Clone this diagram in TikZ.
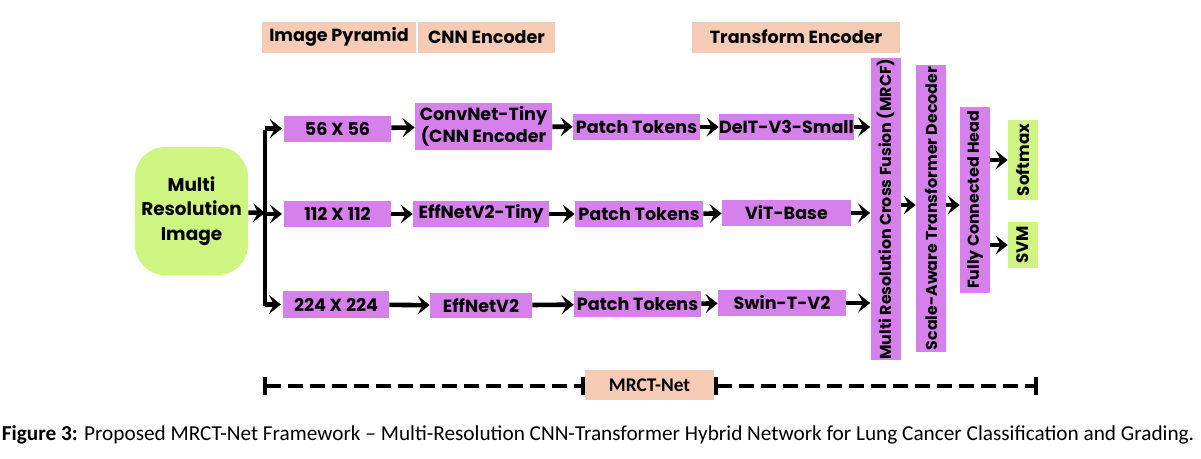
\documentclass[tikz,border=0pt]{standalone}
\usepackage{fontspec}
\usetikzlibrary{arrows.meta,calc}
\newfontfamily\blockfont{Poppins}
\newfontfamily\capfont{Carlito}
\definecolor{peach}{RGB}{245,203,182}
\definecolor{orchid}{RGB}{214,128,236}
\definecolor{lime}{RGB}{206,245,130}

\begin{document}
\begin{tikzpicture}[x=0.02cm,y=-0.02cm,
    hdr/.style={fill=peach,minimum height=0.62cm,inner sep=0pt,font=\blockfont\bfseries\fontsize{10}{12}\selectfont},
    blk/.style={fill=orchid,minimum height=0.52cm,inner sep=0pt,font=\blockfont\bfseries\fontsize{10}{11}\selectfont,align=center},
    vblk/.style={fill=orchid,minimum width=0.6cm,inner sep=0pt,font=\blockfont\bfseries\fontsize{9}{11}\selectfont},
    outblk/.style={fill=lime,minimum width=0.6cm,inner sep=0pt,font=\blockfont\bfseries\fontsize{9.5}{11}\selectfont},
    arr/.style={line width=2.6pt,-{Stealth[length=0.24cm,width=0.38cm,inset=0.1cm]}},
    trunk/.style={line width=2.6pt},
    span/.style={line width=2.2pt,dash pattern=on 0.3cm off 0.14cm,{Bar[width=0.36cm]}-{Bar[width=0.36cm]}}]
  \useasboundingbox (0,0) rectangle (1201,458);

  % headers
  \node[hdr,minimum width=3.08cm] (hpyr) at (339,37) {Image Pyramid};
  \node[hdr,minimum width=2.74cm] (hcnn) at (486.5,37) {CNN Encoder};
  \node[hdr,minimum width=4.16cm] (htrf) at (796,37) {Transform Encoder};

  % input
  \node[fill=lime,rounded corners=0.6cm,minimum width=2.26cm,minimum height=2.56cm,align=center,
        font=\blockfont\bfseries\fontsize{10.5}{14}\selectfont] (in) at (191.5,211) {Multi\\Resolution\\Image};

  % resolutions
  \node[blk,minimum width=2.14cm] (r1) at (337.5,128.5) {56 X 56};
  \node[blk,minimum width=2.14cm] (r2) at (337.5,214) {112 X 112};
  \node[blk,minimum width=2.12cm,minimum height=0.54cm] (r3) at (336,304.5) {224 X 224};

  % cnn encoders
  \node[blk,minimum width=2.74cm,minimum height=0.94cm] (c1) at (483.5,126.5) {ConvNet-Tiny\\(CNN Encoder};
  \node[blk,minimum width=2.72cm] (c2) at (481,214) {EffNetV2-Tiny};
  \node[blk,minimum width=2.04cm,minimum height=0.5cm] (c3) at (481,305.5) {EffNetV2};

  % patch tokens
  \node[blk,minimum width=2.54cm] (p1) at (636.5,127) {Patch Tokens};
  \node[blk,minimum width=2.56cm] (p2) at (639,214) {Patch Tokens};
  \node[blk,minimum width=2.54cm] (p3) at (637.5,304) {Patch Tokens};

  % transformers
  \node[blk,minimum width=2.7cm] (t1) at (786.5,127) {DeIT-V3-Small};
  \node[blk,minimum width=2.58cm] (t2) at (786.5,213) {ViT-Base};
  \node[blk,minimum width=2.56cm] (t3) at (782,303) {Swin-T-V2};

  % fusion and heads
  \node[vblk,minimum height=6.04cm] (fuse) at (885.5,209) {\rotatebox{90}{Multi Resolution Cross Fusion (MRCF)}};
  \node[vblk,minimum height=5.74cm] (dec) at (931,208.5) {\rotatebox{90}{Scale-Aware Transformer Decoder}};
  \node[vblk,minimum height=3.72cm] (fc) at (975,200) {\rotatebox{90}{Fully Connected Head}};
  \node[outblk,minimum height=1.6cm] (soft) at (1023,160) {\rotatebox{90}{Softmax}};
  \node[outblk,minimum height=0.92cm] (svm) at (1023,245) {\rotatebox{90}{SVM}};

  % split
  \coordinate (split) at (265,213);
  \draw[arr] (in) -- (split);
  \draw[trunk] ($(r1.west -| split)+(0,1)$) -- ($(r3.west -| split)+(0,1)$);
  \foreach \n in {r1,r2,r3}
    \draw[arr] (\n.west -| split) -- ([xshift=-1pt]\n.west);

  % rows
  \foreach \i in {1,2,3} {
    \draw[arr] (r\i) -- (c\i);
    \draw[arr] (c\i) -- (p\i);
    \draw[arr] (p\i) -- (t\i);
    \draw[arr] (t\i.east) -- (t\i.east -| fuse.west);
  }
  \draw[arr] (fuse.east |- 0,205) -- (dec.west |- 0,205);
  \draw[arr] (dec.east |- 0,205) -- (fc.west |- 0,205);
  \draw[arr] (fc.east |- soft) -- (soft.west);
  \draw[arr] (fc.east |- svm) -- (svm.west);

  % bottom span
  \node[fill=peach,minimum width=2.58cm,minimum height=0.6cm,inner sep=0pt,
        font=\capfont\bfseries\fontsize{11}{13}\selectfont] (net) at (649.5,385) {MRCT-Net};
  \coordinate (spanl) at (263,386);
  \coordinate (spanr) at (1038,386);
  \draw[span] (spanl) -- (net.west |- spanl);
  \draw[span] (net.east |- spanr) -- (spanr);

  % caption
  \node[font=\capfont\fontsize{12.1}{14}\selectfont,inner sep=0pt] (cap) at (598,435)
    {\textbf{Figure 3:} Proposed MRCT-Net Framework – Multi-Resolution CNN-Transformer Hybrid Network for Lung Cancer Classification and Grading.};
\end{tikzpicture}
\end{document}
